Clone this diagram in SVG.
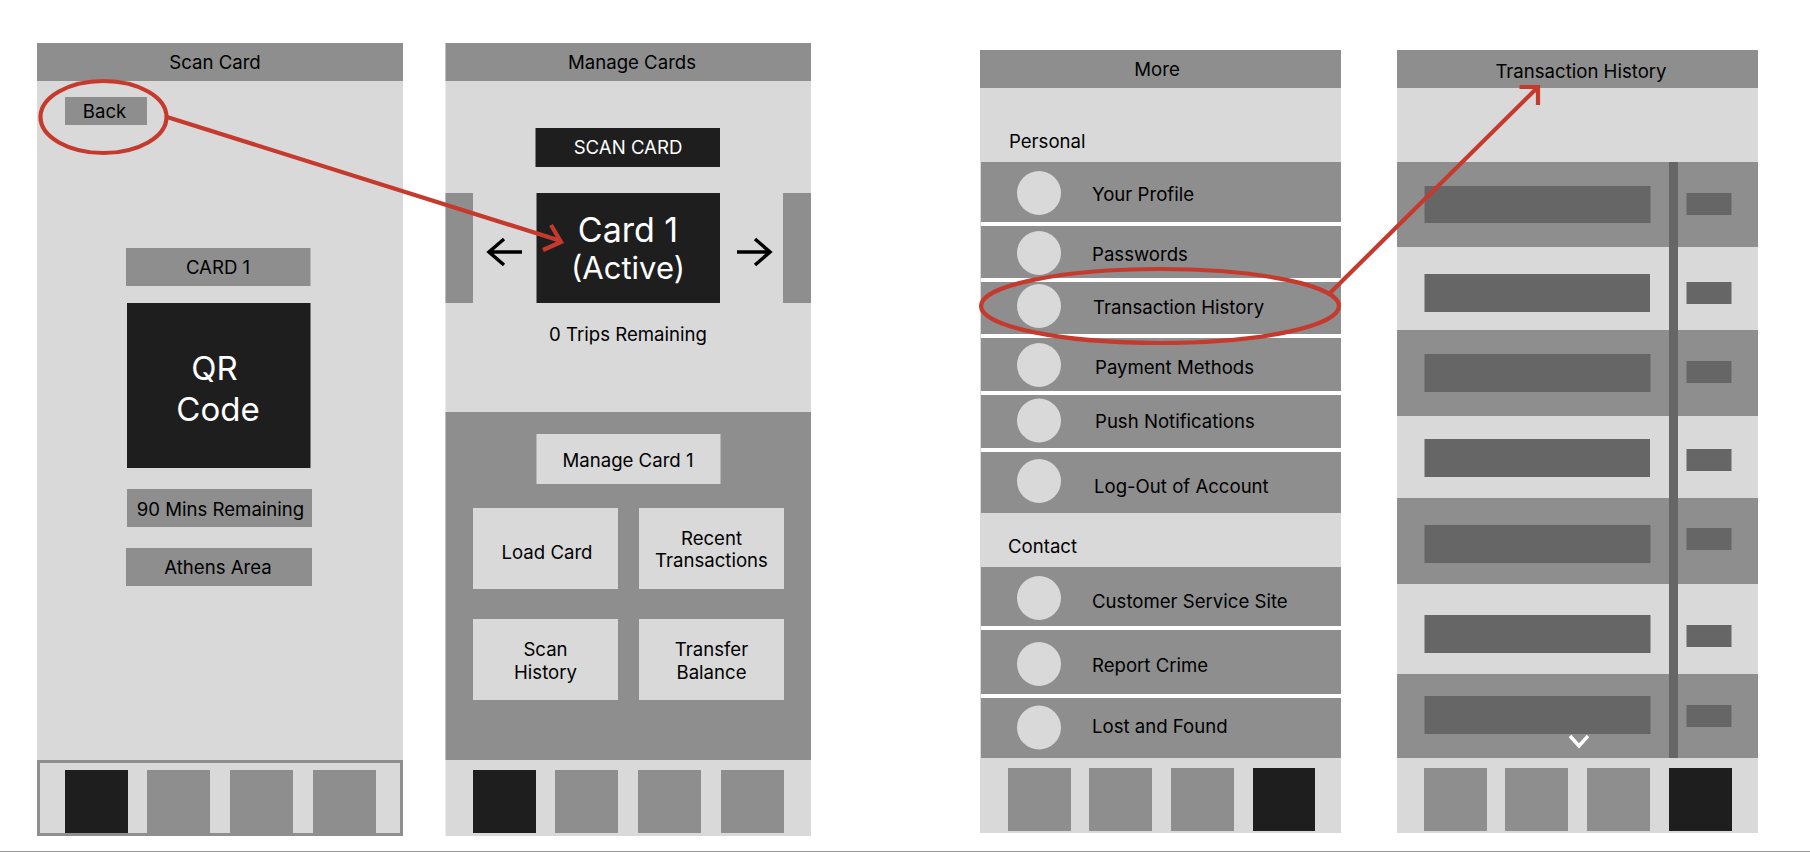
<svg xmlns="http://www.w3.org/2000/svg" width="1810" height="852" viewBox="0 0 1810 852">
<style>
text{font-family:Inter,"Noto Sans","Liberation Sans",sans-serif;font-size:18.600px;fill:#000}
.m{text-anchor:middle}
.w{fill:#fff}
.big{font-size:33px;fill:#fff;text-anchor:middle}
.g{fill:#8e8e8e}
.l{fill:#d9d9d9}
.k{fill:#1e1e1e}
.d{fill:#666}
.red{fill:none;stroke:#c63a2e;stroke-width:4.200}
.blk{fill:none;stroke:#000;stroke-width:3.500}
</style>
<rect width="1810" height="852" fill="#fff"/>
<rect y="851" width="1810" height="1" fill="#999"/>

<g id="screen-scan-card">
<rect class="l" x="37" y="43" width="366" height="793"/>
<rect class="g" x="37" y="43" width="366" height="38"/>
<text class="m" x="215" y="69">Scan Card</text>
<rect class="g" x="65" y="97" width="82" height="28"/>
<text class="m" x="104.500" y="118">Back</text>
<rect class="g" x="126" y="248" width="184.500" height="38"/>
<text class="m" x="218" y="274">CARD 1</text>
<rect class="k" x="127" y="303" width="183.500" height="165"/>
<text class="big" x="214.500" y="380">QR</text>
<text class="big" x="218" y="421">Code</text>
<rect class="g" x="127" y="489" width="185" height="38"/>
<text class="m" x="220.500" y="516">90 Mins Remaining</text>
<rect class="g" x="126" y="548" width="186" height="38"/>
<text class="m" x="218" y="574">Athens Area</text>
<rect class="l" x="38.500" y="761.500" width="363" height="73" stroke="#8e8e8e" stroke-width="3"/>
<rect class="k" x="65" y="770" width="63" height="63"/>
<rect class="g" x="147" y="770" width="63" height="63"/>
<rect class="g" x="230" y="770" width="63" height="63"/>
<rect class="g" x="313" y="770" width="63" height="63"/>
</g>

<g id="screen-manage-cards">
<rect class="l" x="445.500" y="43" width="365.500" height="793"/>
<rect class="g" x="445.500" y="43" width="365.500" height="38"/>
<text class="m" x="632" y="69">Manage Cards</text>
<rect class="k" x="535.500" y="128" width="184.500" height="39"/>
<text class="m w" x="628" y="154">SCAN CARD</text>
<rect class="g" x="445.500" y="193" width="27.500" height="110"/>
<rect class="g" x="783" y="193" width="28" height="110"/>
<rect class="k" x="536.500" y="193" width="183.500" height="110"/>
<text class="big" x="628" y="242" style="font-size:34px">Card 1</text>
<text class="big" x="628" y="279" style="font-size:31px">(Active)</text>
<path class="blk" d="M522 252H489M504 239L489 252L504 265"/>
<path class="blk" d="M737 252H770M755 239L770 252L755 265"/>
<text class="m" x="628" y="341">0 Trips Remaining</text>
<rect class="g" x="445.500" y="412" width="365.500" height="348"/>
<rect class="l" x="536.500" y="434" width="184" height="50"/>
<text class="m" x="628" y="466.500">Manage Card 1</text>
<rect class="l" x="473" y="508" width="145" height="81"/>
<text class="m" x="547" y="558.500">Load Card</text>
<rect class="l" x="639" y="508" width="145" height="81"/>
<text class="m" x="711.500" y="545">Recent</text>
<text class="m" x="711.500" y="567">Transactions</text>
<rect class="l" x="473" y="619" width="145" height="81"/>
<text class="m" x="545.500" y="656">Scan</text>
<text class="m" x="545.500" y="679">History</text>
<rect class="l" x="639" y="619" width="145" height="81"/>
<text class="m" x="711.500" y="656">Transfer</text>
<text class="m" x="711.500" y="679">Balance</text>
<rect class="k" x="473" y="770" width="63" height="63"/>
<rect class="g" x="555" y="770" width="63" height="63"/>
<rect class="g" x="638" y="770" width="63" height="63"/>
<rect class="g" x="721" y="770" width="63" height="63"/>
</g>

<g id="screen-more">
<rect class="l" x="980" y="50" width="361" height="783"/>
<rect class="g" x="980" y="50" width="361" height="38"/>
<text class="m" x="1157" y="76">More</text>
<text x="1009" y="148">Personal</text>
<rect fill="#fff" x="981" y="222" width="360" height="230"/>
<rect class="g" x="981" y="162" width="360" height="60"/>
<rect class="g" x="981" y="226" width="360" height="52"/>
<rect class="g" x="981" y="282" width="360" height="52"/>
<rect class="g" x="981" y="338" width="360" height="53"/>
<rect class="g" x="981" y="395" width="360" height="53"/>
<rect class="g" x="981" y="452" width="360" height="61"/>
<circle class="l" cx="1039" cy="193" r="22"/>
<circle class="l" cx="1039" cy="253" r="22"/>
<circle class="l" cx="1039" cy="306" r="22"/>
<circle class="l" cx="1039" cy="365" r="22"/>
<circle class="l" cx="1039" cy="420.500" r="22"/>
<circle class="l" cx="1039" cy="481" r="22"/>
<text x="1092" y="201">Your Profile</text>
<text x="1092" y="261">Passwords</text>
<text x="1093" y="314">Transaction History</text>
<text x="1095" y="374">Payment Methods</text>
<text x="1095" y="428">Push Notifications</text>
<text x="1094" y="493">Log-Out of Account</text>
<text x="1008" y="553">Contact</text>
<rect fill="#fff" x="981" y="626" width="360" height="72"/>
<rect class="g" x="981" y="567" width="360" height="59"/>
<rect class="g" x="981" y="630" width="360" height="64"/>
<rect class="g" x="981" y="698" width="360" height="60"/>
<circle class="l" cx="1039" cy="598" r="22"/>
<circle class="l" cx="1039" cy="664" r="22"/>
<circle class="l" cx="1039" cy="727.500" r="22"/>
<text x="1092" y="607.500">Customer Service Site</text>
<text x="1092" y="672">Report Crime</text>
<text x="1092" y="733">Lost and Found</text>
<rect class="g" x="1008" y="768" width="63" height="63"/>
<rect class="g" x="1089" y="768" width="63" height="63"/>
<rect class="g" x="1171" y="768" width="63" height="63"/>
<rect class="k" x="1253" y="768" width="62" height="63"/>
</g>

<g id="screen-transaction-history">
<rect class="l" x="1397" y="50" width="361" height="783"/>
<rect class="g" x="1397" y="50" width="361" height="38"/>
<text class="m" x="1581" y="77.500">Transaction History</text>
<rect class="g" x="1397" y="162" width="361" height="85"/>
<rect class="g" x="1397" y="330" width="361" height="86"/>
<rect class="g" x="1397" y="498" width="361" height="86"/>
<rect class="g" x="1397" y="674" width="361" height="84"/>
<rect class="d" x="1424.500" y="186" width="226" height="37"/>
<rect class="d" x="1424.500" y="274" width="225.500" height="38"/>
<rect class="d" x="1424.500" y="354" width="226" height="38"/>
<rect class="d" x="1424.500" y="439" width="225.500" height="38"/>
<rect class="d" x="1424.500" y="525" width="226" height="38"/>
<rect class="d" x="1424.500" y="615" width="226" height="38"/>
<rect class="d" x="1424.500" y="696" width="226" height="38"/>
<rect class="d" x="1669" y="162" width="9" height="596"/>
<rect class="d" x="1686.500" y="193" width="45" height="22"/>
<rect class="d" x="1686.500" y="282" width="45" height="22"/>
<rect class="d" x="1686.500" y="361" width="45" height="22"/>
<rect class="d" x="1686.500" y="449" width="45" height="22"/>
<rect class="d" x="1686.500" y="528" width="45" height="22"/>
<rect class="d" x="1686.500" y="625" width="45" height="22"/>
<rect class="d" x="1686.500" y="705" width="45" height="22"/>
<path d="M1570 736L1579 746L1588 736" fill="none" stroke="#fff" stroke-width="3.500"/>
<rect class="g" x="1424" y="768" width="63" height="63"/>
<rect class="g" x="1505" y="768" width="63" height="63"/>
<rect class="g" x="1587" y="768" width="63" height="63"/>
<rect class="k" x="1669" y="768" width="63" height="63"/>
</g>

<g id="connectors">
<ellipse class="red" cx="103.500" cy="117" rx="63" ry="36"/>
<path class="red" d="M167 117L561 241M551 225L561 242L543 250"/>
<ellipse class="red" cx="1160" cy="306" rx="179" ry="37"/>
<path class="red" d="M1330 293L1537 88M1519.500 87H1538V105"/>
</g>
</svg>
